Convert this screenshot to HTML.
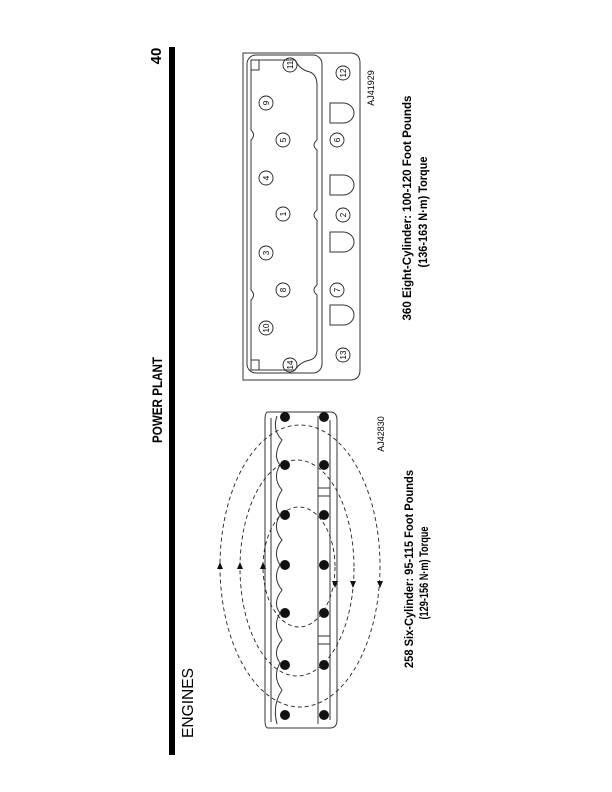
<!DOCTYPE html>
<html><head><meta charset="utf-8"><style>
html,body{margin:0;padding:0;background:#fff}
svg{display:block}
text{font-family:"Liberation Sans",sans-serif;fill:#000}
</style></head><body>
<svg width="612" height="792" viewBox="0 0 612 792" xmlns="http://www.w3.org/2000/svg">
<!-- header -->
<rect x="169" y="47" width="6" height="708" fill="#000"/>
<text transform="translate(161,56) rotate(-90)" text-anchor="middle" font-size="15" font-weight="bold">40</text>
<text transform="translate(162,400) rotate(-90)" text-anchor="middle" font-size="14" font-weight="bold" textLength="86" lengthAdjust="spacingAndGlyphs">POWER PLANT</text>
<text transform="translate(193,703) rotate(-90)" text-anchor="middle" font-size="16" textLength="70" lengthAdjust="spacingAndGlyphs">ENGINES</text>

<!-- captions -->
<g font-weight="bold" font-size="12">
<text transform="translate(411,208) rotate(-90)" text-anchor="middle" textLength="225" lengthAdjust="spacingAndGlyphs">360 Eight-Cylinder: 100-120 Foot Pounds</text>
<text transform="translate(427,212) rotate(-90)" text-anchor="middle" textLength="111" lengthAdjust="spacingAndGlyphs">(136-163 N·m) Torque</text>
<text transform="translate(413,569) rotate(-90)" text-anchor="middle" textLength="198" lengthAdjust="spacingAndGlyphs">258 Six-Cylinder: 95-115 Foot Pounds</text>
<text transform="translate(428,573) rotate(-90)" text-anchor="middle" textLength="93" lengthAdjust="spacingAndGlyphs">(129-156 N·m) Torque</text>
</g>

<!-- 8 cyl diagram -->
<g fill="none" stroke="#333" stroke-width="1">
<path d="M243,53 H350 Q360,53 360,63 V370 Q360,380 350,380 H243 Z"/>
<rect x="247" y="55" width="75" height="318" rx="9"/>
<path d="M251,60 H295 Q300,70 310,72 Q317,75 317,85 V140 Q311,145 317,150 V210 Q311,215 317,220 V285 Q311,290 317,295 V350 Q317,358 310,360 Q300,362 295,370 H251 V300 Q256,295 251,290 V140 Q256,135 251,130 Z"/>
<path d="M251,70 h8 v-10"/><path d="M251,360 h8 v10"/>
<path d="M330,103 h13 a11,10 0 0 1 0,20 h-13 z"/>
<path d="M330,175 h13 a11,10 0 0 1 0,20 h-13 z"/>
<path d="M330,232 h13 a11,10 0 0 1 0,20 h-13 z"/>
<path d="M330,305 h13 a11,10 0 0 1 0,20 h-13 z"/>
</g>
<g font-size="8" text-anchor="middle">
<g fill="none" stroke="#222" stroke-width="0.9">
<circle cx="290" cy="65" r="7"/><circle cx="343" cy="73" r="7"/><circle cx="266" cy="103" r="7"/>
<circle cx="283" cy="140" r="7"/><circle cx="337" cy="140" r="7"/><circle cx="266" cy="178" r="7"/>
<circle cx="283" cy="214" r="7"/><circle cx="343" cy="215" r="7"/><circle cx="266" cy="253" r="7"/>
<circle cx="283" cy="290" r="7"/><circle cx="337" cy="290" r="7"/><circle cx="266" cy="328" r="7"/>
<circle cx="343" cy="355" r="7"/><circle cx="290" cy="365" r="7"/>
</g>
<text transform="translate(293,65) rotate(-90)">11</text>
<text transform="translate(346,73) rotate(-90)">12</text>
<text transform="translate(269,103) rotate(-90)">9</text>
<text transform="translate(286,140) rotate(-90)">5</text>
<text transform="translate(340,140) rotate(-90)">6</text>
<text transform="translate(269,178) rotate(-90)">4</text>
<text transform="translate(286,214) rotate(-90)">1</text>
<text transform="translate(346,215) rotate(-90)">2</text>
<text transform="translate(269,253) rotate(-90)">3</text>
<text transform="translate(286,290) rotate(-90)">8</text>
<text transform="translate(340,290) rotate(-90)">7</text>
<text transform="translate(269,328) rotate(-90)">10</text>
<text transform="translate(346,355) rotate(-90)">13</text>
<text transform="translate(293,365) rotate(-90)">14</text>
</g>
<text transform="translate(374,88) rotate(-90)" text-anchor="middle" font-size="9">AJ41929</text>

<!-- 6 cyl diagram -->
<g fill="none" stroke="#333" stroke-width="1">
<path d="M268,412 H330 Q337,412 337,420 V720 Q337,728 330,728 H268 Q265,728 265,720 V420 Q265,412 268,412 Z"/>
<path d="M271,418 V722"/>
<path d="M277,416 Q272,430 282,440 Q272,455 280,465 Q272,478 282,490 Q272,505 280,515 Q272,528 282,540 Q272,552 280,565 Q272,578 282,590 Q272,603 280,613 Q272,626 282,640 Q272,652 280,663 Q272,677 282,690 Q272,705 277,724"/>
<path d="M318,416 V724"/><path d="M330,420 V720"/>
<path d="M318,488 h12 v8 h-12"/><path d="M318,636 h12 v8 h-12"/>
</g>
<g fill="#111">
<circle cx="285" cy="417" r="5"/><circle cx="285" cy="465" r="5"/><circle cx="285" cy="515" r="5"/><circle cx="285" cy="565" r="5"/><circle cx="285" cy="613" r="5"/><circle cx="285" cy="665" r="5"/><circle cx="285" cy="715" r="5"/>
<circle cx="324" cy="417" r="5"/><circle cx="324" cy="465" r="5"/><circle cx="324" cy="515" r="5"/><circle cx="324" cy="565" r="5"/><circle cx="324" cy="613" r="5"/><circle cx="324" cy="665" r="5"/><circle cx="324" cy="715" r="5"/>
</g>
<g fill="none" stroke="#222" stroke-width="0.9" stroke-dasharray="4,3">
<ellipse cx="299" cy="567" rx="36" ry="60"/>
<ellipse cx="297" cy="568" rx="57" ry="108"/>
<ellipse cx="300" cy="566" rx="80" ry="141"/>
</g>
<g fill="#111">
<path d="M220,562 l-3,7 h6 z"/><path d="M240,562 l-3,7 h6 z"/><path d="M263,562 l-3,7 h6 z"/>
<path d="M335,588 l-3,-7 h6 z"/><path d="M353,588 l-3,-7 h6 z"/><path d="M380,588 l-3,-7 h6 z"/>
</g>
<text transform="translate(384,434) rotate(-90)" text-anchor="middle" font-size="9">AJ42830</text>
</svg>
</body></html>
